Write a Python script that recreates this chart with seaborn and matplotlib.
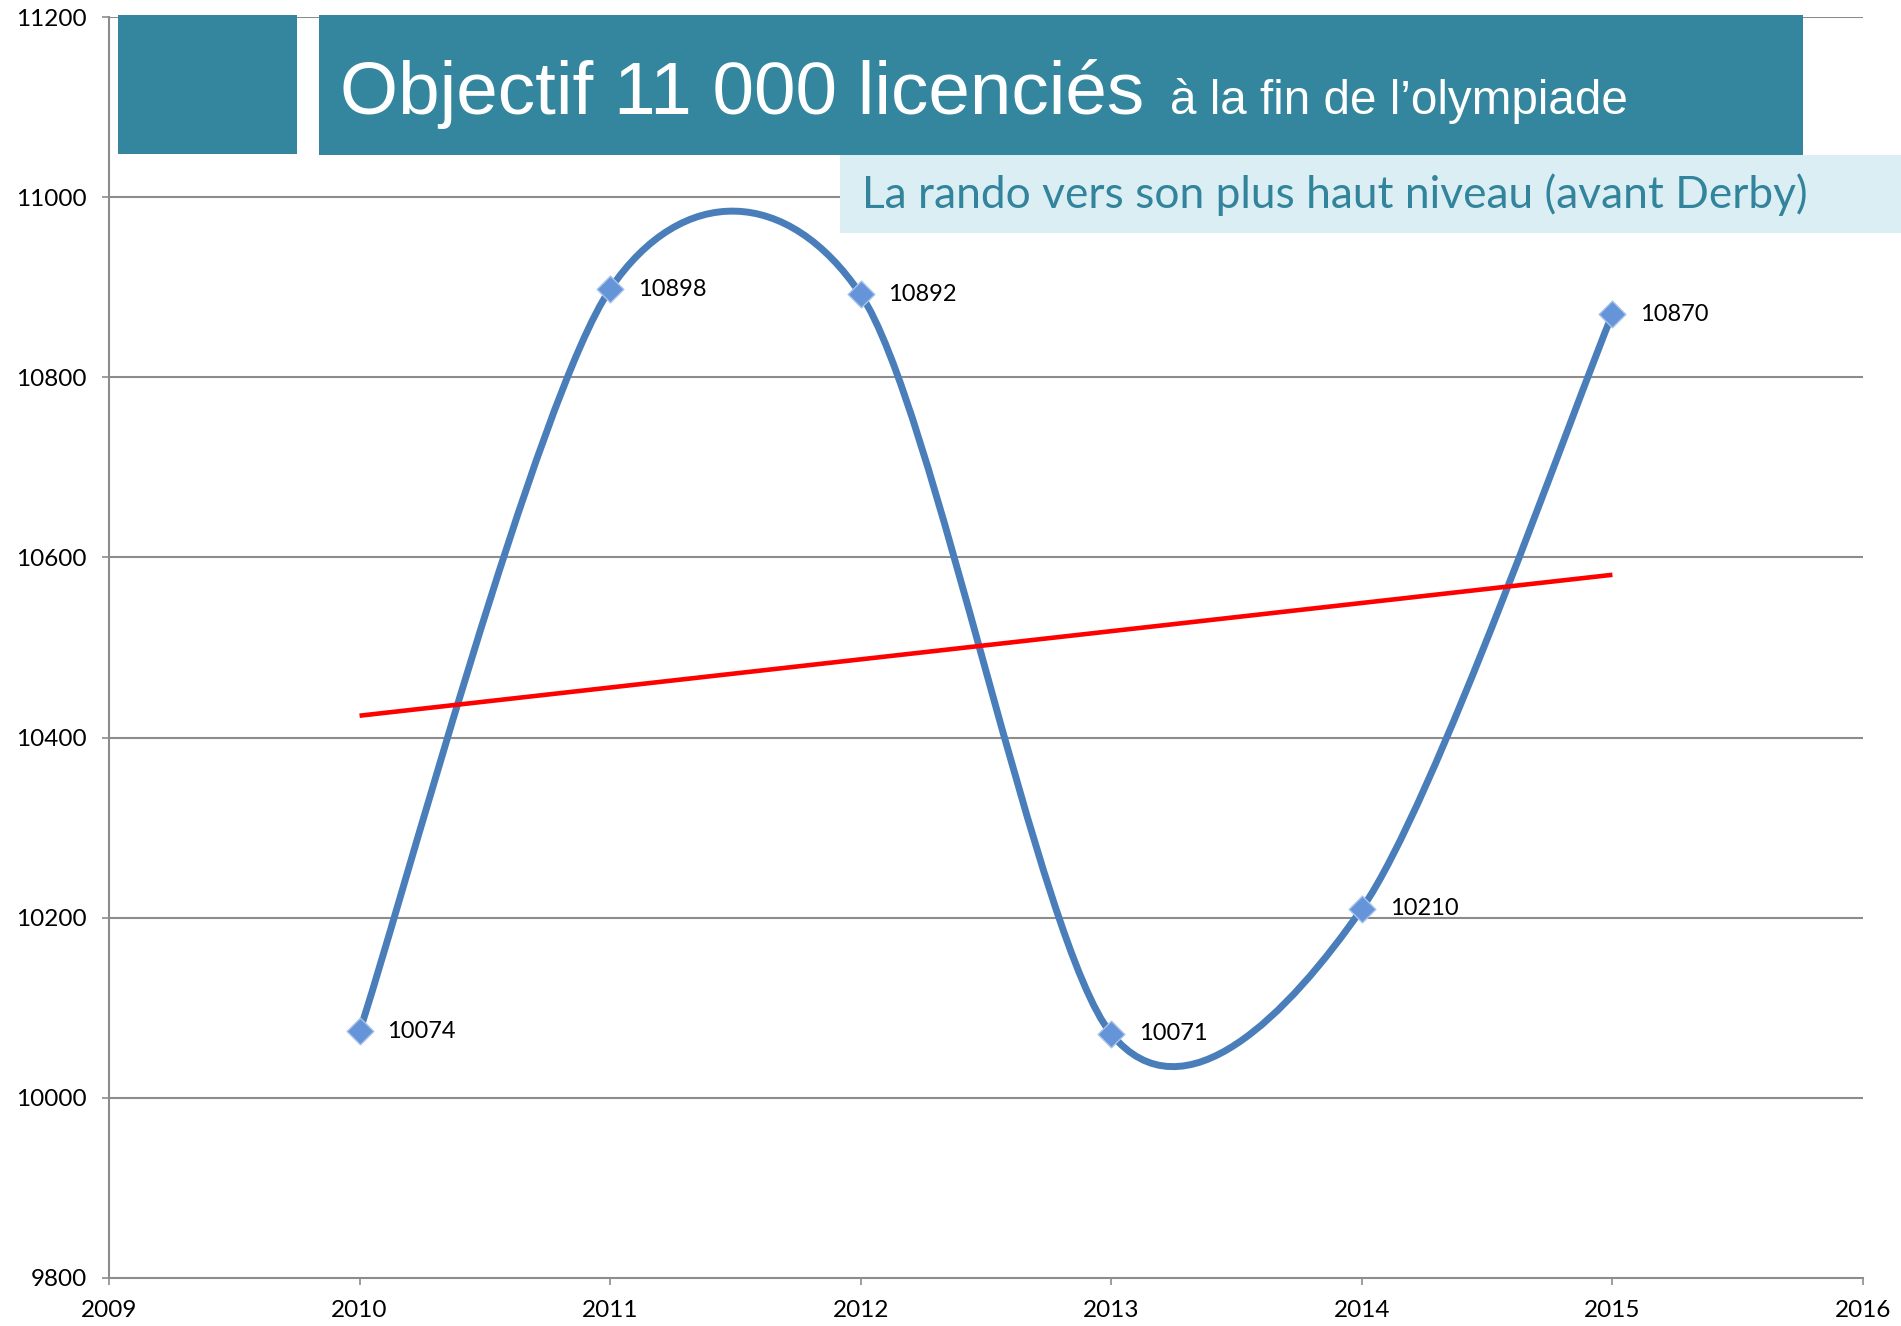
import numpy as np
import matplotlib
matplotlib.use("Agg")
import matplotlib.pyplot as plt
from matplotlib.path import Path
from matplotlib.patches import PathPatch, Rectangle
import seaborn as sns

# ---- data ----
years = [2010, 2011, 2012, 2013, 2014, 2015]
licencies = [10074, 10898, 10892, 10071, 10210, 10870]
x_ticks = [2009, 2010, 2011, 2012, 2013, 2014, 2015, 2016]
y_ticks = [9800, 10000, 10200, 10400, 10600, 10800, 11000, 11200]
title_main = "Objectif 11 000 licenciés"
title_rest = "à la fin de l’olympiade"
subtitle = "La rando vers son plus haut niveau (avant Derby)"

W, H = 1901, 1326
sns.set_theme(style="white")
plt.rcParams['font.family'] = ['Lato', 'DejaVu Sans']

fig = plt.figure(figsize=(W / 100, H / 100), dpi=100)
ax = fig.add_axes([109 / W, 1 - 1278 / H, (1863 - 109) / W, (1278 - 17) / H])
ax.set_xlim(2009, 2016)
ax.set_ylim(9800, 11200)

grid_c = "#8C8C8C"
ax.set_xticks(x_ticks)
ax.set_yticks(y_ticks)
for v in y_ticks[1:]:
    ax.axhline(v, color=grid_c, lw=1.5, zorder=0.5)
for s in ["top", "right"]:
    ax.spines[s].set_visible(False)
for s in ["left", "bottom"]:
    ax.spines[s].set_color(grid_c)
    ax.spines[s].set_linewidth(1.5)
ax.tick_params(axis="both", direction="out", length=5, width=1.2, color=grid_c,
               labelsize=17.5, labelcolor="black", left=True, bottom=True)
ax.tick_params(axis="x", pad=11)
ax.tick_params(axis="y", pad=11)
ax.set_xlabel("")
ax.set_ylabel("")

# ---- smoothed line (Excel-like bezier through the points) ----
f = 0.145
px = [years[0]] + years + [years[-1]]
py = [licencies[0]] + licencies + [licencies[-1]]
verts = [(years[0], licencies[0])]
codes = [Path.MOVETO]
for i in range(1, len(px) - 2):
    p0 = np.array([px[i - 1], py[i - 1]], float)
    p1 = np.array([px[i], py[i]], float)
    p2 = np.array([px[i + 1], py[i + 1]], float)
    p3 = np.array([px[i + 2], py[i + 2]], float)
    c1 = p1 + (p2 - p0) * f
    c2 = p2 - (p3 - p1) * f
    verts += [tuple(c1), tuple(c2), tuple(p2)]
    codes += [Path.CURVE4] * 3
ax.add_patch(PathPatch(Path(verts, codes), facecolor="none", edgecolor="#4A7EBB",
                       lw=5.0, capstyle="round", joinstyle="round", zorder=2,
                       transform=ax.transData))

# ---- linear trend line ----
sns.regplot(x=years, y=licencies, scatter=False, ci=None, truncate=True, ax=ax,
            line_kws=dict(color="#FF0000", lw=3.3, zorder=4, solid_capstyle="butt"))
ax.set_xlim(2009, 2016)
ax.set_ylim(9800, 11200)

# ---- markers ----
sns.scatterplot(x=years, y=licencies, marker="D", s=185, color="#6594D8",
                edgecolor="#A8C3EA", linewidth=1.0, zorder=5, ax=ax)

for x, y in zip(years, licencies):
    ax.annotate(f"{y}", (x, y), xytext=(20, 0), textcoords="offset points",
                ha="left", va="center", fontsize=17, color="black", zorder=6)

# ---- title boxes ----
teal = "#33869E"
fig.patches.append(Rectangle((118 / W, 1 - 154 / H), (297 - 118) / W, (154 - 15) / H,
                             transform=fig.transFigure, facecolor=teal, edgecolor="none", zorder=10))
fig.patches.append(Rectangle((319 / W, 1 - 155 / H), (1803 - 319) / W, (155 - 15) / H,
                             transform=fig.transFigure, facecolor=teal, edgecolor="none", zorder=10))
fig.patches.append(Rectangle((840 / W, 1 - 233 / H), (1901 - 840) / W, (233 - 155) / H,
                             transform=fig.transFigure, facecolor="#DAEEF3", edgecolor="none", zorder=11))

renderer = fig.canvas.get_renderer()


def fit_text(x, ybase, txt, target_w, size, family, color):
    t = fig.text(x / W, 1 - ybase / H, txt, fontsize=size, family=family, color=color,
                 ha="left", va="baseline", zorder=12)
    w = t.get_window_extent(renderer).width
    t.set_fontsize(size * target_w / w)
    return t


fit_text(340, 114, title_main, 806, 53, ["Liberation Sans", "DejaVu Sans"], "white")
fit_text(1170, 114, title_rest, 458, 34, ["Liberation Sans", "DejaVu Sans"], "white")
fit_text(862, 208, subtitle, 944, 30, ["Lato", "DejaVu Sans"], "#31849B")

fig.savefig("out.png", dpi=100)
